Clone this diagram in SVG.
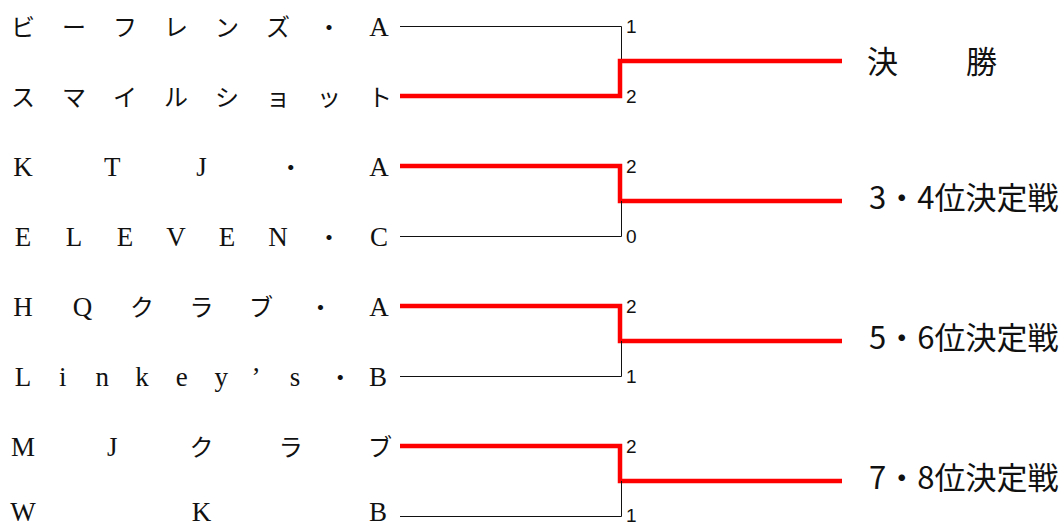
<svg xmlns="http://www.w3.org/2000/svg" width="1064" height="527" viewBox="0 0 1064 527">
<style>
.name{font-family:"Liberation Serif","Noto Sans CJK JP",serif;font-size:24px;fill:#111;text-anchor:middle}
.lat{font-size:27px}
.score{font-family:"Liberation Sans",Arial,sans-serif;font-size:19px;fill:#111}
.label{font-family:"Noto Sans CJK JP","Noto Sans",sans-serif;font-size:31px;fill:#111}
.lose{fill:none;stroke:#111;stroke-width:1}
.win{fill:none;stroke:#ff0000;stroke-width:4.5;stroke-linejoin:miter;stroke-linecap:butt}
</style>
<rect width="1064" height="527" fill="#ffffff"/>
<g id="connectors">
<path class="lose" d="M400,26.5 H621.5 V61"/>
<path class="win" d="M400,96 H620 V61 H842"/>
<path class="win" d="M400,166 H620 V201 H842"/>
<path class="lose" d="M400,236.5 H621.5 V201"/>
<path class="win" d="M400,306 H620 V341 H842"/>
<path class="lose" d="M400,376.5 H621.5 V341"/>
<path class="win" d="M400,446 H620 V481 H842"/>
<path class="lose" d="M400,516.5 H621.5 V481"/>
</g>
<g id="team-1"><text class="name" x="23 74 125 176 227 278 329 379" y="36">ビーフレンズ・<tspan class="lat">A</tspan></text></g>
<g id="team-2"><text class="name" x="23 74 125 176 227 278 329 380" y="106">スマイルショット</text></g>
<g id="team-3"><text class="name" x="23 112.25 201.5 290.75 379" y="176"><tspan class="lat">KTJ</tspan>・<tspan class="lat">A</tspan></text></g>
<g id="team-4"><text class="name" x="23 74 125 176 227 278 329 379" y="246"><tspan class="lat">ELEVEN</tspan>・<tspan class="lat">C</tspan></text></g>
<g id="team-5"><text class="name" x="23 82.5 142 201.5 261 320.5 379" y="316"><tspan class="lat">HQ</tspan>クラブ・<tspan class="lat">A</tspan></text></g>
<g id="team-6"><text class="name" x="23 62.7 102.3 142 181.7 221.3 256 295 340.3 378" y="386"><tspan class="lat">Linkey’s</tspan>・<tspan class="lat">B</tspan></text></g>
<g id="team-7"><text class="name" x="23 112.25 201.5 290.75 380" y="456"><tspan class="lat">MJ</tspan>クラブ</text></g>
<g id="team-8"><text class="name lat" x="23 201.5 378" y="521">WKB</text></g>
<g id="scores">
<text class="score" x="626" y="32.5">1</text>
<text class="score" x="626" y="102.5">2</text>
<text class="score" x="626" y="172.5">2</text>
<text class="score" x="626" y="242.5">0</text>
<text class="score" x="626" y="312.5">2</text>
<text class="score" x="626" y="382.5">1</text>
<text class="score" x="626" y="452.5">2</text>
<text class="score" x="626" y="522">1</text>
</g>
<g id="final"><text class="label" x="867 966" y="73">決勝</text></g>
<g id="place-3-4"><text class="label" x="869" y="209">3・4位決定戦</text></g>
<g id="place-5-6"><text class="label" x="869" y="349">5・6位決定戦</text></g>
<g id="place-7-8"><text class="label" x="869" y="489">7・8位決定戦</text></g>
</svg>
